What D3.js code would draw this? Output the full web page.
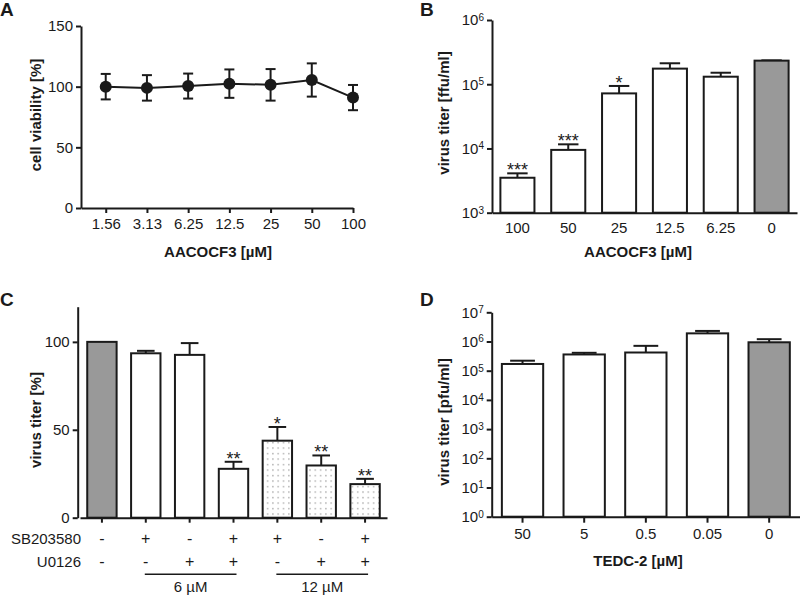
<!DOCTYPE html>
<html>
<head>
<meta charset="utf-8">
<script src="https://cdn.jsdelivr.net/npm/d3@7"></script>
<style>
  html, body { margin: 0; padding: 0; background: #fff; }
  svg { display: block; font-family: "Liberation Sans", Arial, sans-serif; }
  .axis path, .axis line { stroke: #1a1a1a; stroke-width: 2; }
  .axis text { font-size: 15px; fill: #1a1a1a; }
</style>
</head>
<body>
<svg id="chart" width="800" height="595"></svg>
<script>
// ---------- Data ----------
// Panel A: cell viability
const aCats = ["1.56", "3.13", "6.25", "12.5", "25", "50", "100"];
const aMean = [100, 99, 100.5, 102.5, 101.5, 105.5, 91];
const aErr  = [10.5, 10.5, 10.3, 11.7, 13, 13.7, 10.4];
const aTicks = [0, 50, 100, 150];

// Panel B: virus titer [ffu/ml]
const bCats  = ["100", "50", "25", "12.5", "6.25", "0"];
const bMean  = [3500, 9500, 72000, 175000, 131000, 233000];
const bErr   = [600, 2100, 22000, 37000, 20000, 2000];
const bStars = ["***", "***", "*", "", "", ""];
const bFill  = ["white", "white", "white", "white", "white", "gray"];
const bTicks = [1e3, 1e4, 1e5, 1e6];

// Panel C: virus titer [%]
const cCats  = ["c1", "c2", "c3", "c4", "c5", "c6", "c7"];
const cSB    = ["-", "+", "-", "+", "+", "-", "+"];
const cU0126 = ["-", "-", "+", "+", "-", "+", "+"];
const cMean  = [100, 93.5, 92.6, 27.8, 43.8, 29.7, 19.1];
const cErr   = [0, 1.4, 6.7, 4, 7.8, 5.7, 3];
const cStars = ["", "", "", "**", "*", "**", "**"];
const cFill  = ["gray", "white", "white", "white", "dots", "dots", "dots"];
const cTicks = [0, 50, 100];
const cGroupLabels = ["6 µM", "12 µM"];
const cGroupFrom   = [1, 4];
const cGroupTo     = [3, 6];

// Panel D: virus titer [pfu/ml]
const dCats = ["50", "5", "0.5", "0.05", "0"];
const dMean = [170000, 360000, 420000, 1900000, 940000];
const dErr  = [50000, 50000, 290000, 400000, 260000];
const dFill = ["white", "white", "white", "white", "gray"];
const dTicks = [1, 1e1, 1e2, 1e3, 1e4, 1e5, 1e6, 1e7];

// ---------- Setup ----------
const svg = d3.select("#chart");
const INK = "#1a1a1a";
const GRAY = "#999999";

const defs = svg.append("defs");
const pat = defs.append("pattern").attr("id", "dots")
  .attr("patternUnits", "userSpaceOnUse").attr("width", 5.3).attr("height", 5.5);
pat.append("rect").attr("width", 5.3).attr("height", 5.5).attr("fill", "#fff");
pat.append("rect").attr("x", 2).attr("y", 2).attr("width", 1.2).attr("height", 1.2).attr("fill", "#888");

function fillOf(f) { return f === "gray" ? GRAY : f === "dots" ? "url(#dots)" : "#fff"; }

function panelLetter(t, x, y) {
  svg.append("text").attr("x", x).attr("y", y).text(t)
    .attr("font-size", 19).attr("font-weight", "bold").attr("fill", INK);
}
function yTitle(t, x, y) {
  svg.append("text").attr("transform", `translate(${x},${y}) rotate(-90)`)
    .attr("text-anchor", "middle").attr("font-size", 15).attr("font-weight", "bold")
    .attr("fill", INK).text(t);
}
function xTitle(t, x, y) {
  svg.append("text").attr("x", x).attr("y", y).attr("text-anchor", "middle")
    .attr("font-size", 15).attr("font-weight", "bold").attr("fill", INK).text(t);
}
function powLabels(g) {
  g.selectAll(".tick text").each(function(d) {
    const t = d3.select(this);
    const e = Math.round(Math.log10(d));
    t.text(null);
    t.append("tspan").text("10");
    t.append("tspan").attr("dy", "-0.45em").attr("font-size", "10px").text(e);
  });
}

// ---------- Panel A ----------
{
  const x = d3.scalePoint().domain(aCats).range([81, 353]).padding(0.3).align(1);
  const y = d3.scaleLinear().domain([0, 150]).range([208, 26]);
  svg.append("g").attr("class", "axis").attr("transform", "translate(0,208)")
    .call(d3.axisBottom(x).tickSize(5).tickSizeOuter(0).tickPadding(5));
  svg.append("g").attr("class", "axis").attr("transform", "translate(81,0)")
    .call(d3.axisLeft(y).tickValues(aTicks).tickSize(5).tickSizeOuter(0).tickPadding(3));
  const idx = d3.range(aCats.length);
  svg.append("path").datum(idx)
    .attr("d", d3.line().x(i => x(aCats[i])).y(i => y(aMean[i])))
    .attr("fill", "none").attr("stroke", INK).attr("stroke-width", 2);
  const eb = svg.append("g").attr("stroke", INK).attr("stroke-width", 2);
  idx.forEach(i => {
    const cx = x(aCats[i]);
    const y1 = y(aMean[i] + aErr[i]), y0 = y(aMean[i] - aErr[i]);
    eb.append("line").attr("x1", cx).attr("x2", cx).attr("y1", y1).attr("y2", y0);
    eb.append("line").attr("x1", cx - 5).attr("x2", cx + 5).attr("y1", y1).attr("y2", y1);
    eb.append("line").attr("x1", cx - 5).attr("x2", cx + 5).attr("y1", y0).attr("y2", y0);
  });
  svg.append("g").selectAll("circle").data(idx).join("circle")
    .attr("cx", i => x(aCats[i])).attr("cy", i => y(aMean[i])).attr("r", 6).attr("fill", INK);
  panelLetter("A", 0, 16);
  yTitle("cell viability [%]", 41, 115);
  xTitle("AACOCF3 [µM]", 218, 257);
}

// ---------- Bar helper ----------
function bars(x, y, cats, mean, err, fills, base, capFrac) {
  const g = svg.append("g");
  cats.forEach((c, i) => {
    const x0 = x(c), w = x.bandwidth(), cx = x0 + w / 2;
    const top = y(mean[i]);
    if (err[i] > 0) {
      const et = y(mean[i] + err[i]);
      g.append("line").attr("x1", cx).attr("x2", cx).attr("y1", top).attr("y2", et)
        .attr("stroke", INK).attr("stroke-width", 2);
      g.append("line").attr("x1", cx - w * capFrac / 2).attr("x2", cx + w * capFrac / 2)
        .attr("y1", et).attr("y2", et).attr("stroke", INK).attr("stroke-width", 2);
    }
    g.append("rect").attr("x", x0).attr("y", top).attr("width", w).attr("height", base - top)
      .attr("fill", fillOf(fills[i])).attr("stroke", INK).attr("stroke-width", 2);
  });
  return g;
}
function stars(x, y, cats, mean, err, st) {
  cats.forEach((c, i) => {
    if (!st[i]) return;
    svg.append("text").attr("x", x(c) + x.bandwidth() / 2).attr("y", y(mean[i] + err[i]) + 3)
      .attr("text-anchor", "middle").attr("font-size", 18).attr("fill", INK).text(st[i]);
  });
}

// ---------- Panel B ----------
{
  const x = d3.scaleBand().domain(bCats).range([492, 797]).paddingInner(0.33).paddingOuter(0.165);
  const y = d3.scaleLog().domain([1e3, 1e6]).range([212.7, 20]);
  bars(x, y, bCats, bMean, bErr, bFill, 212.7, 0.6);
  stars(x, y, bCats, bMean, bErr, bStars);
  svg.append("g").attr("class", "axis").attr("transform", "translate(0,212.7)")
    .call(d3.axisBottom(x).tickSize(0).tickSizeOuter(0).tickPadding(10));
  svg.append("g").attr("class", "axis").attr("transform", "translate(492,0)")
    .call(d3.axisLeft(y).tickValues(bTicks).tickSize(5).tickSizeOuter(0).tickPadding(3))
    .call(powLabels);
  panelLetter("B", 420, 16);
  yTitle("virus titer [ffu/ml]", 449, 113);
  xTitle("AACOCF3 [µM]", 638, 257);
}

// ---------- Panel C ----------
{
  const x = d3.scaleBand().domain(cCats).range([80, 387]).paddingInner(0.33).paddingOuter(0.165);
  const y = d3.scaleLinear().domain([0, 120]).range([517.7, 306.7]);
  bars(x, y, cCats, cMean, cErr, cFill, 517.7, 0.6);
  stars(x, y, cCats, cMean, cErr, cStars);
  svg.append("g").attr("class", "axis").attr("transform", "translate(0,517.7)")
    .call(d3.axisBottom(x).tickSize(5).tickSizeOuter(0).tickFormat(""));
  svg.append("g").attr("class", "axis").attr("transform", "translate(77.7,0)")
    .call(d3.axisLeft(y).tickValues(cTicks).tickSize(5).tickSizeOuter(0).tickPadding(3));
  const cx = c => x(c) + x.bandwidth() / 2;
  const rows = [["SB203580", cSB, 543.5], ["U0126", cU0126, 567]];
  rows.forEach(([lab, vals, yy]) => {
    svg.append("text").attr("x", 81).attr("y", yy).attr("text-anchor", "end")
      .attr("font-size", 15).attr("fill", INK).text(lab);
    cCats.forEach((c, i) => {
      svg.append("text").attr("x", cx(c)).attr("y", yy).attr("text-anchor", "middle")
        .attr("font-size", 16).attr("fill", INK).text(vals[i]);
    });
  });
  cGroupLabels.forEach((lab, k) => {
    const x1 = cx(cCats[cGroupFrom[k]]) - 1, x2 = cx(cCats[cGroupTo[k]]) + 3;
    svg.append("line").attr("x1", x1).attr("x2", x2).attr("y1", 574.3).attr("y2", 574.3)
      .attr("stroke", INK).attr("stroke-width", 1.5);
    svg.append("text").attr("x", (x1 + x2) / 2).attr("y", 592).attr("text-anchor", "middle")
      .attr("font-size", 15).attr("fill", INK).text(lab);
  });
  panelLetter("C", 0, 306);
  yTitle("virus titer [%]", 41, 420);
}

// ---------- Panel D ----------
{
  const x = d3.scaleBand().domain(dCats).range([491.7, 800]).paddingInner(0.33).paddingOuter(0.165);
  const y = d3.scaleLog().domain([1, 1e7]).range([516.7, 312.3]);
  bars(x, y, dCats, dMean, dErr, dFill, 516.7, 0.6);
  svg.append("g").attr("class", "axis").attr("transform", "translate(0,516.7)")
    .call(d3.axisBottom(x).tickSize(6).tickSizeOuter(0).tickPadding(6));
  svg.append("g").attr("class", "axis").attr("transform", "translate(491.7,0)")
    .call(d3.axisLeft(y).tickValues(dTicks).tickSize(5).tickSizeOuter(0).tickPadding(3))
    .call(powLabels);
  panelLetter("D", 420, 306);
  yTitle("virus titer [pfu/ml]", 449, 422);
  xTitle("TEDC-2 [µM]", 638, 566);
}
</script>
</body>
</html>
